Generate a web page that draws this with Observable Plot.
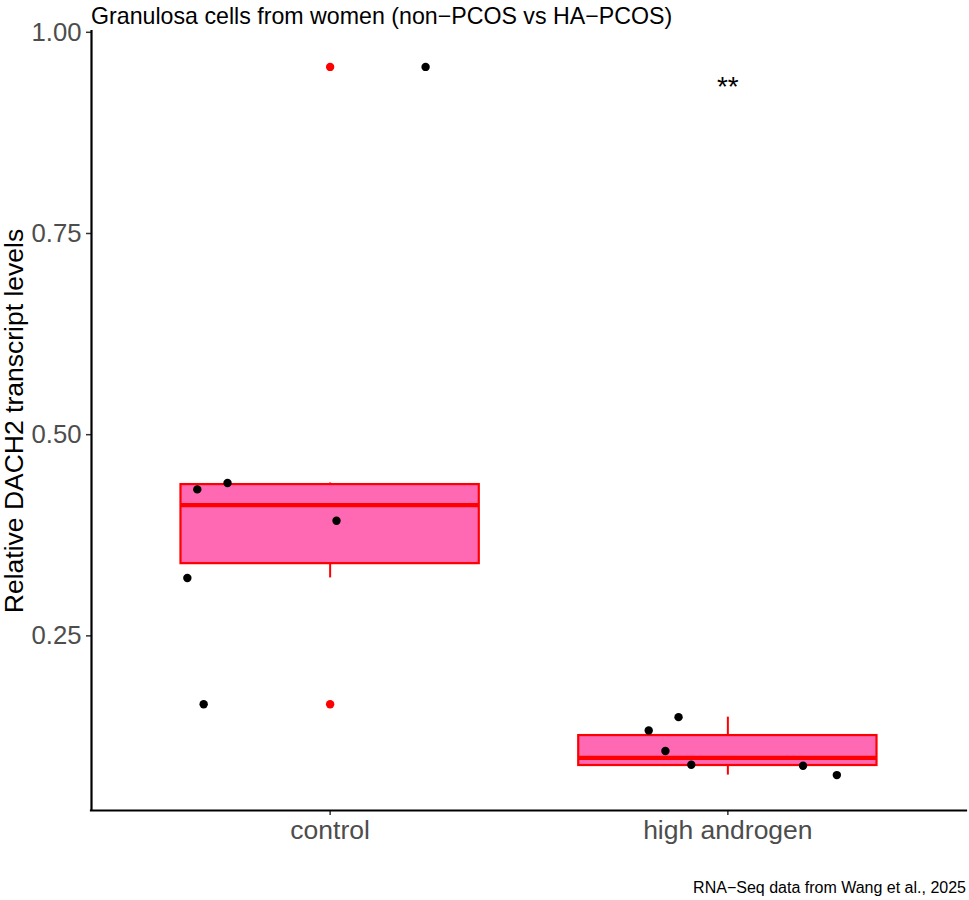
<!DOCTYPE html>
<html>
<head>
<meta charset="utf-8">
<script src="https://cdn.jsdelivr.net/npm/d3@7"></script>
<script src="https://cdn.jsdelivr.net/npm/@observablehq/plot@0.6"></script>
<style>
  body { margin: 0; background: #fff; font-family: "Liberation Sans", Arial, Helvetica, sans-serif; }
  #title { height: 24px; padding-top: 4px; line-height: 24px; font-size: 23.2px; padding-left: 91px; color: #000; white-space: nowrap; }
  #caption { margin-top: 4px; line-height: 20px; font-size: 16px; text-align: right; padding-right: 3px; color: #000; white-space: nowrap; }
  #chart svg { overflow: visible; display: block; }
</style>
</head>
<body>
<div id="title">Granulosa cells from women (non−PCOS vs HA−PCOS)</div>
<div id="chart"></div>
<div id="caption">RNA−Seq data from Wang et al., 2025</div>
<script>
// ---- data ----
const groups = ["control", "high androgen"];
const controlValues = [0.957, 0.440, 0.432, 0.393, 0.322, 0.165];
const controlJitterX = [1.240, 0.742, 0.666, 1.016, 0.641, 0.682];
const highAndrogenValues = [0.149, 0.1325, 0.107, 0.0898, 0.0886, 0.077];
const highAndrogenJitterX = [1.876, 1.801, 1.843, 1.908, 2.189, 2.274];
const yTicks = [0.25, 0.50, 0.75, 1.00];
const significanceLabels = ["", "**"];
const significanceY = [null, 0.937];
const yLabel = "Relative DACH2 transcript levels";

// ---- derived tables ----
const seriesValues = [controlValues, highAndrogenValues];
const seriesJitter = [controlJitterX, highAndrogenJitterX];

const points = [];
seriesValues.forEach((vals, gi) => vals.forEach((v, i) => points.push({pos: gi + 1, x: seriesJitter[gi][i], y: v})));

const stats = seriesValues.map((vals, gi) => {
  const s = vals.slice().sort(d3.ascending);
  const q1 = d3.quantile(s, 0.25), med = d3.quantile(s, 0.5), q3 = d3.quantile(s, 0.75);
  const iqr = q3 - q1;
  const lo = q1 - 1.5 * iqr, hi = q3 + 1.5 * iqr;
  const inside = s.filter(v => v >= lo && v <= hi);
  return {pos: gi + 1, q1, med, q3, wlo: d3.min(inside), whi: d3.max(inside), outliers: s.filter(v => v < lo || v > hi)};
});
const outliers = stats.flatMap(st => st.outliers.map(v => ({pos: st.pos, y: v})));
const sig = significanceLabels.map((t, i) => ({pos: i + 1, y: significanceY[i], t})).filter(d => d.t);

const allY = points.map(d => d.y);
const yMin = d3.min(allY), yMax = d3.max(allY);
const yPad = (yMax - yMin) * 0.05;
const yDomain = [yMin - yPad, yMax + yPad];
const halfWidth = 0.375;

const chart = Plot.plot({
  width: 969,
  height: 846,
  marginTop: 3,
  marginBottom: 64,
  marginLeft: 91,
  marginRight: 3,
  style: {fontFamily: "'Liberation Sans', Arial, Helvetica, sans-serif", background: "#fff", overflow: "visible"},
  x: {domain: [0.4, 2.6], axis: null},
  y: {domain: yDomain, axis: null},
  marks: [
    // whiskers
    Plot.ruleX(stats, {x: "pos", y1: "wlo", y2: "q1", stroke: "red", strokeWidth: 2}),
    Plot.ruleX(stats, {x: "pos", y1: "q3", y2: "whi", stroke: "red", strokeWidth: 2}),
    // box
    Plot.rect(stats, {x1: d => d.pos - halfWidth, x2: d => d.pos + halfWidth, y1: "q1", y2: "q3", fill: "#FF69B4", stroke: "red", strokeWidth: 2.2}),
    Plot.ruleY(stats, {y: "med", x1: d => d.pos - halfWidth, x2: d => d.pos + halfWidth, stroke: "red", strokeWidth: 4.2}),
    // outliers
    Plot.dot(outliers, {x: "pos", y: "y", r: 4.2, fill: "red", stroke: "none"}),
    // jittered points
    Plot.dot(points, {x: "x", y: "y", r: 4.2, fill: "black", stroke: "none"}),
    // significance
    Plot.text(sig, {x: "pos", y: "y", text: "t", fontSize: 28, fill: "black", lineAnchor: "middle", dy: 4}),
    // axes
    Plot.axisY({ticks: yTicks, tickFormat: d3.format(".2f"), tickSize: 5, tickPadding: 5, fontSize: 25.7, stroke: "#333333", fill: "#4d4d4d", strokeWidth: 1.5, label: null}),
    Plot.axisX({ticks: [1, 2], tickFormat: d => groups[d - 1], tickSize: 5, tickPadding: 5, fontSize: 26.5, stroke: "#333333", fill: "#4d4d4d", strokeWidth: 1.5, label: null}),
    Plot.ruleX([0.4], {stroke: "black", strokeWidth: 2.2, strokeLinecap: "square"}),
    Plot.ruleY([yDomain[0]], {stroke: "black", strokeWidth: 2.2, strokeLinecap: "square"}),
    Plot.text([yLabel], {frameAnchor: "left", textAnchor: "middle", rotate: -90, dx: -77, fontSize: 26.5, fill: "black", lineAnchor: "middle"})
  ]
});
document.getElementById("chart").appendChild(chart);
</script>
</body>
</html>
